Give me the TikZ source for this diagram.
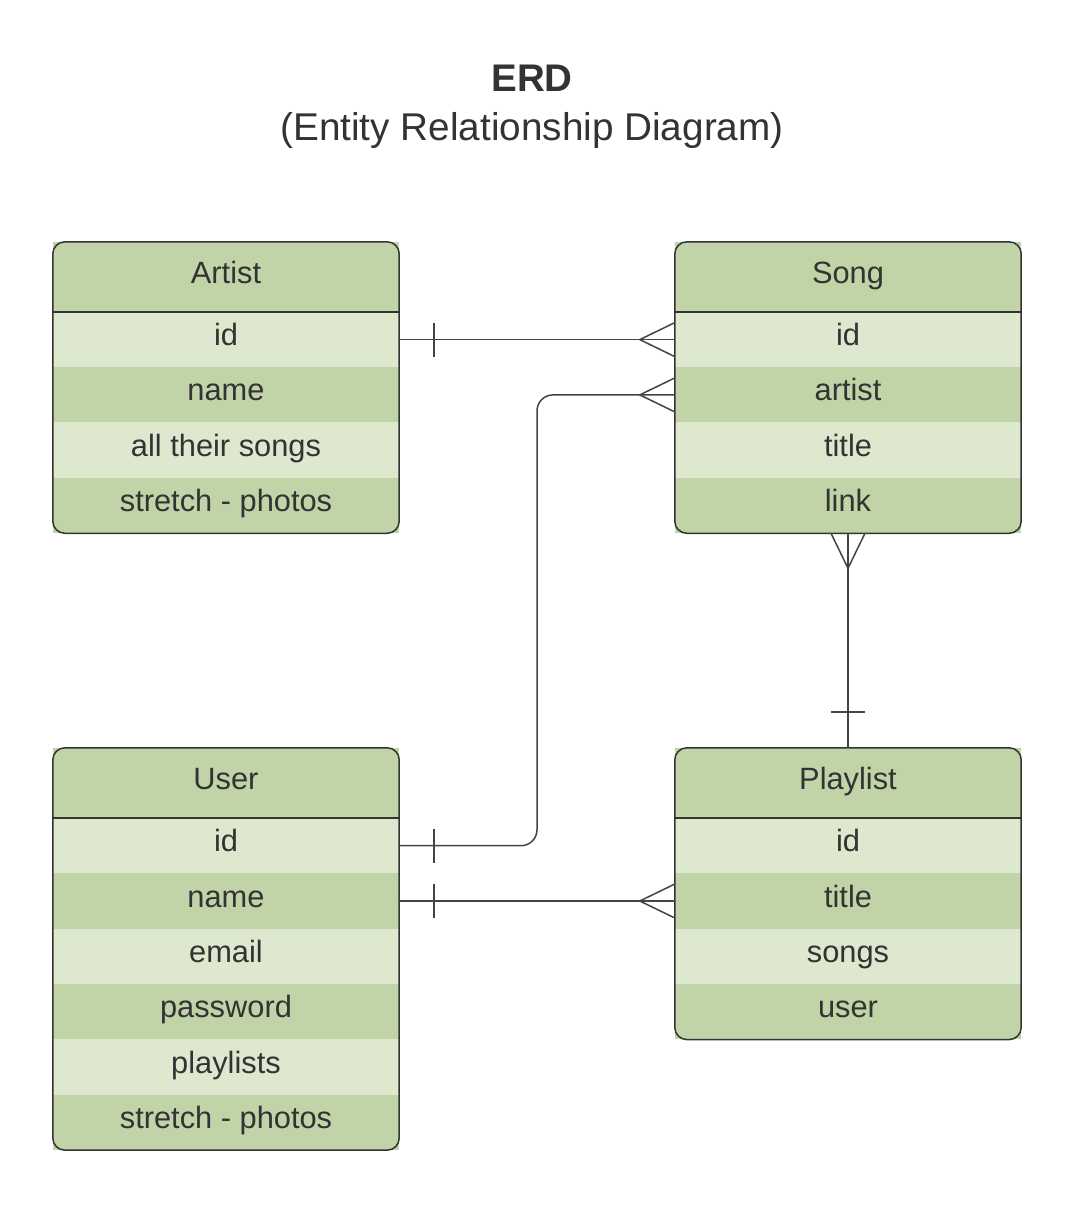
\documentclass[tikz,border=0pt]{standalone}
\usepackage{fontspec}
\setmainfont{Liberation Sans}
\usetikzlibrary{calc}
\definecolor{darkg}{RGB}{192,212,168}
\definecolor{lightg}{RGB}{221,232,206}
\definecolor{ink}{RGB}{51,51,51}
\definecolor{wire}{RGB}{68,68,68}
\tikzset{
  cell/.style={rectangle, minimum width=346pt, inner sep=0pt, draw=none, text=ink,
    font=\fontsize{30.8}{36}\selectfont, text height=22pt, text depth=10pt},
  hdr/.style={cell, fill=darkg, minimum height=70pt},
  rowL/.style={cell, fill=lightg, minimum height=55.3pt},
  rowD/.style={cell, fill=darkg, minimum height=55.3pt},
  frame/.style={draw=ink, line width=1.5pt, rounded corners=12pt},
  sep/.style={draw=ink, line width=1.5pt},
  rel/.style={draw=wire, line width=1.5pt},
}
\begin{document}
\begin{tikzpicture}[x=1pt,y=-1pt]
\useasboundingbox[fill=white] (0,0) rectangle (1082,1216);
\node[text=ink, font=\bfseries\fontsize{38.5}{44}\selectfont] (t1) at (532,78) {ERD};
\node[text=ink, font=\fontsize{38.7}{44}\selectfont] (t2) at (532,130) {(Entity Relationship Diagram)};
% Artist
\node[hdr] (artist) at (226,277) {Artist};
\node[rowL] (artist-id) at (226,339.6) {id};
\node[rowD] (artist-name) at (226,394.9) {name};
\node[rowL] (artist-songs) at (226,450.1) {all their songs};
\node[rowD] (artist-photos) at (226,505.4) {stretch - photos};
\draw[frame] (artist.north west) rectangle (artist-photos.south east);
\draw[sep] (artist.south west) -- (artist.south east);
% Song
\node[hdr] (song) at (848,277) {Song};
\node[rowL] (song-id) at (848,339.6) {id};
\node[rowD] (song-artist) at (848,394.9) {artist};
\node[rowL] (song-title) at (848,450.1) {title};
\node[rowD] (song-link) at (848,505.4) {link};
\draw[frame] (song.north west) rectangle (song-link.south east);
\draw[sep] (song.south west) -- (song.south east);
% User
\node[hdr] (user) at (226,783) {User};
\node[rowL] (user-id) at (226,845.7) {id};
\node[rowD] (user-name) at (226,901) {name};
\node[rowL] (user-email) at (226,956.3) {email};
\node[rowD] (user-password) at (226,1011.7) {password};
\node[rowL] (user-playlists) at (226,1067) {playlists};
\node[rowD] (user-photos) at (226,1122.3) {stretch - photos};
\draw[frame] (user.north west) rectangle (user-photos.south east);
\draw[sep] (user.south west) -- (user.south east);
% Playlist
\node[hdr] (playlist) at (848,783) {Playlist};
\node[rowL] (pl-id) at (848,845.7) {id};
\node[rowD] (pl-title) at (848,901) {title};
\node[rowL] (pl-songs) at (848,956.3) {songs};
\node[rowD] (pl-user) at (848,1011.7) {user};
\draw[frame] (playlist.north west) rectangle (pl-user.south east);
\draw[sep] (playlist.south west) -- (playlist.south east);
% Artist id -> Song id
\draw[rel] (artist-id.east) -- (song-id.west);
\draw[rel] ($(artist-id.east)+(35,-17)$) -- ($(artist-id.east)+(35,17)$);
\draw[rel] ($(song-id.west)+(0,-17)$) -- ($(song-id.west)+(-35,0)$) -- ($(song-id.west)+(0,17)$);
% User id -> Song artist
\coordinate (bend) at (537,394.9);
\draw[rel, rounded corners=16pt] (user-id.east) -| (bend) -- (song-artist.west);
\draw[rel] ($(user-id.east)+(35,-17)$) -- ($(user-id.east)+(35,17)$);
\draw[rel] ($(song-artist.west)+(0,-17)$) -- ($(song-artist.west)+(-35,0)$) -- ($(song-artist.west)+(0,17)$);
% User name -> Playlist title
\draw[rel] (user-name.east) -- (pl-title.west);
\draw[rel] ($(user-name.east)+(35,-17)$) -- ($(user-name.east)+(35,17)$);
\draw[rel] ($(pl-title.west)+(0,-17)$) -- ($(pl-title.west)+(-35,0)$) -- ($(pl-title.west)+(0,17)$);
% Song -> Playlist
\draw[rel] (song-link.south) -- (playlist.north);
\draw[rel] ($(song-link.south)+(-17,0)$) -- ($(song-link.south)+(0,35)$) -- ($(song-link.south)+(17,0)$);
\draw[rel] ($(playlist.north)+(-17,-36)$) -- ($(playlist.north)+(17,-36)$);
\end{tikzpicture}
\end{document}
